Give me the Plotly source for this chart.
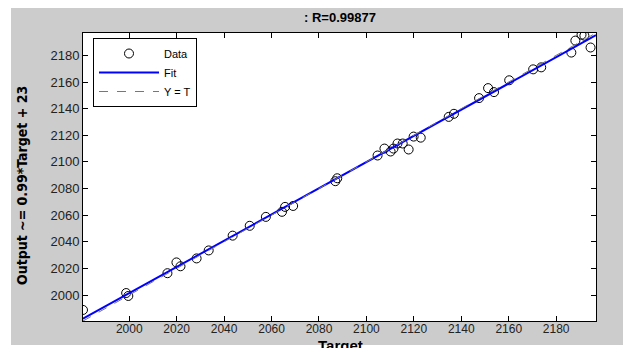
import numpy as np
import plotly.graph_objects as go

# Data
target = [1980.5, 1998.7, 1999.6, 2016.1, 2019.9, 2021.6, 2028.4, 2033.5, 2043.6, 2050.8,
          2057.6, 2064.4, 2065.7, 2069.1, 2086.9, 2087.7, 2104.7, 2107.6, 2110.2, 2111.4,
          2113.1, 2115.3, 2117.8, 2119.9, 2122.9, 2134.7, 2136.9, 2147.5, 2151.3, 2153.8,
          2160.2, 2170.3, 2173.7, 2186.4, 2188.1, 2190.7, 2191.9, 2194.5]
output = [1988.8, 2001.5, 1999.3, 2016.4, 2024.5, 2021.6, 2027.5, 2033.5, 2044.6, 2052.0,
          2058.7, 2062.5, 2066.2, 2066.9, 2085.5, 2087.7, 2104.8, 2110.0, 2107.8, 2110.0,
          2113.8, 2113.8, 2109.3, 2119.0, 2118.2, 2133.8, 2136.1, 2147.9, 2155.4, 2152.4,
          2161.3, 2169.5, 2171.0, 2182.1, 2191.1, 2195.5, 2194.8, 2185.9]
tick_vals = [2000, 2020, 2040, 2060, 2080, 2100, 2120, 2140, 2160, 2180]
axis_lim = [1980.5, 2196.8]
title_text = ": R=0.99877"
ylabel_text = "Output ~= 0.99*Target + 23"
xlabel_text = "Target"

slope, intercept = np.polyfit(target, output, 1)
line_x = np.array(axis_lim)
fit_y = slope * line_x + intercept

fig = go.Figure()
fig.add_trace(go.Scatter(x=target, y=output, mode="markers", name="Data",
                         marker=dict(symbol="circle-open", size=9, color="black",
                                     line=dict(width=1, color="black"))))
fig.add_trace(go.Scatter(x=line_x, y=fit_y, mode="lines", name="Fit",
                         line=dict(color="#0000ff", width=2)))
fig.add_trace(go.Scatter(x=line_x, y=line_x, mode="lines", name="Y = T",
                         line=dict(color="#777777", width=1, dash="dash")))

# figure is drawn at an 8px page offset (default body margin)
FW, FH = 623, 340
PW, PH = 513.0, 288.0
# white border strips around the gray MATLAB figure background
white = dict(fillcolor="white", line=dict(width=0), xref="paper", yref="paper", layer="above")
fig.add_shape(type="rect", x0=-75 / PW, x1=-72 / PW, y0=-27 / PH, y1=313 / PH, **white)
fig.add_shape(type="rect", x0=544 / PW, x1=548 / PW, y0=-27 / PH, y1=313 / PH, **white)
fig.add_shape(type="rect", x0=-75 / PW, x1=548 / PW, y0=-27 / PH, y1=-24 / PH, **white)

axis_common = dict(range=axis_lim, tickvals=tick_vals, ticks="inside", ticklen=5,
                   tickcolor="black", showline=True, linecolor="black", linewidth=1,
                   mirror="ticks", showgrid=False, zeroline=False, automargin=False,
                   tickfont=dict(family="Liberation Sans, Arial", size=13, color="#222222"))

fig.update_layout(
    width=FW, height=FH,
    margin=dict(l=75, r=35, t=25, b=27),
    paper_bgcolor="#cccccc", plot_bgcolor="white",
    title=dict(text="<b>" + title_text + "</b>", x=332 / FW, xanchor="center",
               y=1 - 9 / FH, yanchor="middle",
               font=dict(family="Liberation Sans, Arial", size=13, color="black")),
    xaxis=dict(**axis_common),
    yaxis=dict(**axis_common),
    legend=dict(x=10 / PW, y=1 - 5 / PH, xanchor="left", yanchor="top",
                bgcolor="white", bordercolor="black", borderwidth=1,
                font=dict(family="Liberation Sans, Arial", size=11, color="black"),
                itemwidth=60, tracegroupgap=0),
    showlegend=True,
)
fig.update_xaxes(tickfont=dict(size=12), ticklabelstandoff=-3)

fig.add_annotation(text="<b>" + xlabel_text + "</b>", xref="paper", yref="paper",
                   x=(340 - 83) / PW, y=(321 - 345) / PH, xanchor="center", yanchor="middle",
                   showarrow=False,
                   font=dict(family="Liberation Sans, Arial", size=15, color="black"))
fig.add_annotation(text="<b>" + ylabel_text + "</b>", xref="paper", yref="paper",
                   x=(22 - 83) / PW, y=(321 - 186) / PH, xanchor="center", yanchor="middle",
                   textangle=-90, showarrow=False,
                   font=dict(family="DejaVu Sans Condensed, Liberation Sans Narrow, Arial",
                             size=14, color="black"))

fig.write_html("out.html")
